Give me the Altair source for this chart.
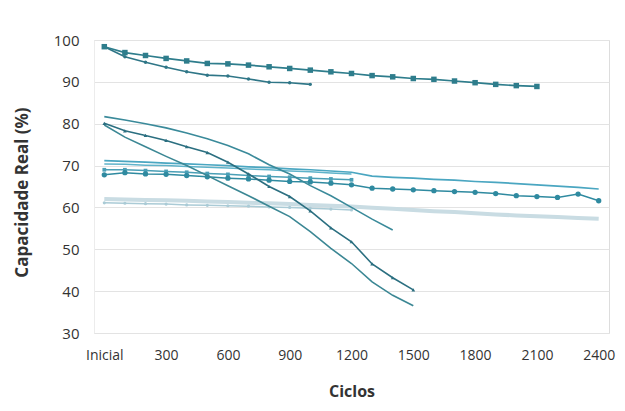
import altair as alt
import pandas as pd

# Cycle categories
cycles = [0, 100, 200, 300, 400, 500, 600, 700, 800, 900, 1000, 1100, 1200,
          1300, 1400, 1500, 1600, 1700, 1800, 1900, 2000, 2100, 2200, 2300, 2400]
tick_values = [0, 300, 600, 900, 1200, 1500, 1800, 2100, 2400]

# Series values (Capacidade Real %)
s_a = [98.4, 97.0, 96.3, 95.6, 95.0, 94.4, 94.3, 94.0, 93.6, 93.2, 92.8, 92.4, 92.0,
       91.5, 91.2, 90.8, 90.6, 90.2, 89.8, 89.4, 89.1, 88.9]
s_b = [98.4, 96.0, 94.7, 93.5, 92.4, 91.6, 91.4, 90.7, 89.9, 89.8, 89.4]
s_d1 = [81.7, 80.9, 80.0, 79.0, 77.8, 76.4, 74.8, 72.8, 70.2, 68.0, 65.2, 62.8, 60.0,
        57.2, 54.6]
s_t = [80.1, 78.3, 77.2, 76.0, 74.5, 73.1, 70.8, 68.0, 65.0, 62.6, 59.2, 55.1, 51.8,
       46.5, 43.2, 40.3]
s_d3 = [79.7, 76.8, 74.5, 72.2, 70.0, 67.6, 65.2, 62.8, 60.3, 57.8, 54.2, 50.2, 46.6,
        42.2, 39.0, 36.5]
s_f1 = [71.2, 71.0, 70.8, 70.6, 70.4, 70.2, 70.0, 69.7, 69.5, 69.2, 69.0, 68.7, 68.4,
        67.5, 67.2, 67.0, 66.7, 66.5, 66.2, 66.0, 65.7, 65.4, 65.1, 64.8, 64.4]
s_f2 = [70.4, 70.3, 70.1, 70.0, 69.8, 69.6, 69.4, 69.2, 69.0, 68.7, 68.5, 68.2, 68.0]
s_m2 = [69.0, 69.0, 68.8, 68.6, 68.4, 68.1, 67.9, 67.6, 67.4, 67.2, 67.0, 66.8, 66.6]
s_m1 = [67.8, 68.3, 68.0, 67.9, 67.6, 67.3, 67.0, 66.8, 66.5, 66.2, 66.1, 65.8, 65.4,
        64.6, 64.4, 64.2, 64.0, 63.8, 63.6, 63.3, 62.8, 62.6, 62.4, 63.2, 61.6]
s_l1 = [62.0, 61.9, 61.8, 61.7, 61.6, 61.4, 61.3, 61.1, 61.0, 60.8, 60.6, 60.4, 60.2,
        59.9, 59.7, 59.4, 59.1, 58.9, 58.6, 58.3, 58.1, 57.9, 57.7, 57.5, 57.3]
s_l2 = [61.1, 61.0, 60.9, 60.8, 60.6, 60.5, 60.4, 60.3, 60.1, 60.0, 59.8, 59.6, 59.4]

series = [
    # name, values, color, stroke width, marker shape, marker size
    ("L1", s_l1, "#c9dce3", 4.0, None, 0),
    ("L2", s_l2, "#aacbd6", 1.5, "circle", 10),
    ("F1", s_f1, "#4aa6c1", 1.7, None, 0),
    ("F2", s_f2, "#5fb3ca", 1.5, None, 0),
    ("M2", s_m2, "#4a9fb6", 1.5, "square", 14),
    ("M1", s_m1, "#2f8aa0", 1.5, "circle", 28),
    ("D3", s_d3, "#3b8794", 1.6, None, 0),
    ("T", s_t, "#2b6f80", 1.6, "triangle-up", 14),
    ("D1", s_d1, "#3a8a9a", 1.6, None, 0),
    ("B", s_b, "#2f7687", 1.6, "circle", 12),
    ("A", s_a, "#2e7d8c", 1.7, "square", 30),
]

rows = []
for name, vals, color, sw, shape, size in series:
    for c, v in zip(cycles, vals):
        rows.append({"series": name, "ciclo": c, "valor": v})
df = pd.DataFrame(rows)

x_enc = alt.X("ciclo:Q",
              scale=alt.Scale(domain=[-50, 2450], nice=False, zero=False),
              axis=alt.Axis(values=tick_values, format="d",
                            labelExpr="datum.value == 0 ? 'Inicial' : datum.label",
                            grid=False, ticks=False, domain=False,
                            labelFont="Open Sans", labelFontSize=14, labelColor="#333333",
                            labelPadding=15,
                            title="Ciclos", titleFont="Open Sans", titleFontSize=16,
                            titleFontWeight="bold", titleColor="#333333",
                            titleY=58, titleBaseline="middle"))
y_enc = alt.Y("valor:Q",
              scale=alt.Scale(domain=[30, 100], nice=False, zero=False),
              axis=alt.Axis(values=[30, 40, 50, 60, 70, 80, 90, 100],
                            grid=True, gridColor="#e3e3e3", gridWidth=1,
                            ticks=False, domain=True, domainColor="#ececec",
                            labelFont="Open Sans", labelFontSize=15, labelColor="#333333",
                            labelPadding=15,
                            title="Capacidade Real (%)", titleFont="Open Sans",
                            titleFontSize=17, titleFontWeight="bold", titleColor="#333333",
                            titleX=-72, titleY=152, titleAngle=-90,
                            titleAlign="center", titleBaseline="middle"))

layers = []
for name, vals, color, sw, shape, size in series:
    sub = df[df["series"] == name]
    base = alt.Chart(sub)
    layers.append(base.mark_line(color=color, strokeWidth=sw).encode(x=x_enc, y=y_enc))
    if shape:
        layers.append(base.mark_point(shape=shape, filled=True, color=color, size=size,
                                      opacity=1).encode(x=x_enc, y=y_enc))

chart = alt.layer(*layers).properties(
    width=515, height=293,
    autosize=alt.AutoSizeParams(type="none"),
    padding={"left": 86, "top": 32, "right": 8, "bottom": 70},
).configure_view(stroke=None).configure(background="white")

chart.save("out.html", embed_options={"renderer": "svg", "actions": False})
